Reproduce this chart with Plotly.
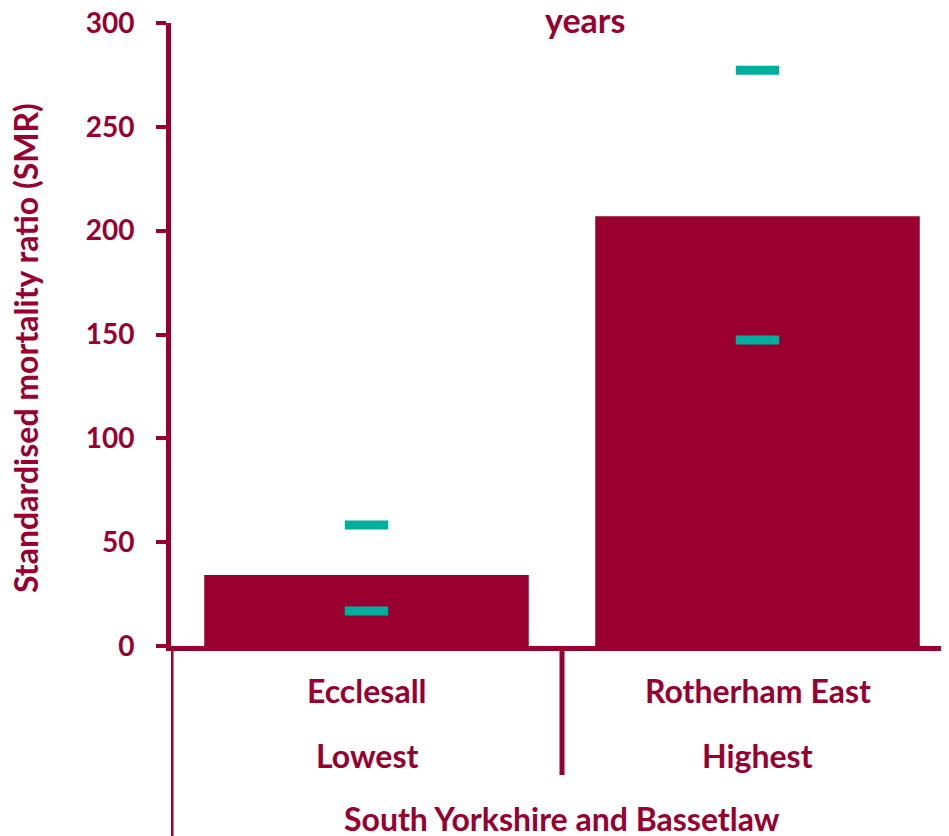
import plotly.graph_objects as go

areas = ["Ecclesall", "Rotherham East"]
ranks = ["Lowest", "Highest"]
region = "South Yorkshire and Bassetlaw"
smr = [34.2, 207.0]
ci_lower = [16.9, 147.3]
ci_upper = [58.3, 277.3]
y_ticks = [0, 50, 100, 150, 200, 250, 300]

RED = "#990030"
TEAL = "#00AE9D"
FONT = "Lato"

W, H = 949, 836
OFF = 8  # page body margin
# target page-pixel geometry
P_LEFT, P_TOP, P_BOTTOM, P_RIGHT = 171, 23, 646, 953
L = P_LEFT - OFF
T = P_TOP - OFF
B = H - (P_BOTTOM - OFF)
R = W - (P_RIGHT - OFF)
plot_w = W - L - R
plot_h = H - T - B

fig = go.Figure()
fig.add_trace(go.Bar(x=list(range(len(areas))), y=smr, width=0.83,
                     marker=dict(color=RED, line=dict(width=0)), showlegend=False))
for vals in (ci_upper, ci_lower):
    fig.add_trace(go.Scatter(x=list(range(len(areas))), y=vals, mode="markers",
                             marker=dict(symbol="line-ew", size=31,
                                         line=dict(color=TEAL, width=9)),
                             showlegend=False))

def py(pix):
    return (P_BOTTOM - pix) / plot_h

def px(pix):
    return (pix - P_LEFT) / plot_w

def ann(x, y, text, size, xref="paper", **kw):
    return dict(x=x, y=y, xref=xref, yref="paper", text=f"<b>{text}</b>",
                showarrow=False, xanchor="center", yanchor="middle",
                font=dict(size=size, color=RED, family=FONT), **kw)

anns = []
for i, (a, r) in enumerate(zip(areas, ranks)):
    anns.append(ann(i, py(690), a, 32, xref="x"))
    anns.append(ann(i, py(755), r, 32, xref="x"))
anns.append(ann(0.5, py(818), region, 32, xref="x"))
anns.append(ann(px(25), py(348), "Standardised mortality ratio (SMR)", 32, textangle=-90))
anns.append(ann(px(585), py(19), "years", 34))

shapes = [
    dict(type="line", xref="x", yref="paper", x0=0.5, x1=0.5, y0=0, y1=py(775),
         line=dict(color=RED, width=5)),
    dict(type="line", xref="x", yref="paper", x0=-0.5, x1=-0.5, y0=0, y1=py(850),
         line=dict(color=RED, width=5)),
]

fig.update_layout(
    width=W, height=H,
    margin=dict(l=L, r=R, t=T, b=B, autoexpand=False),
    paper_bgcolor="white", plot_bgcolor="white",
    annotations=anns, shapes=shapes,
    xaxis=dict(range=[-0.5, 1.5], showticklabels=False, showgrid=False,
               zeroline=False, showline=True, linecolor=RED, linewidth=5,
               ticks="", automargin=False),
    yaxis=dict(range=[0, 300], tickvals=y_ticks,
               ticktext=[f"<b>{v}</b>" for v in y_ticks],
               showgrid=False, zeroline=False, showline=True, linecolor=RED,
               linewidth=5, ticks="outside", ticklen=10, tickwidth=4,
               tickcolor=RED, tickfont=dict(size=28, color=RED, family=FONT),
               ticklabelstandoff=16, ticklabeloverflow="allow", automargin=False),
)

fig.write_html("out.html")
